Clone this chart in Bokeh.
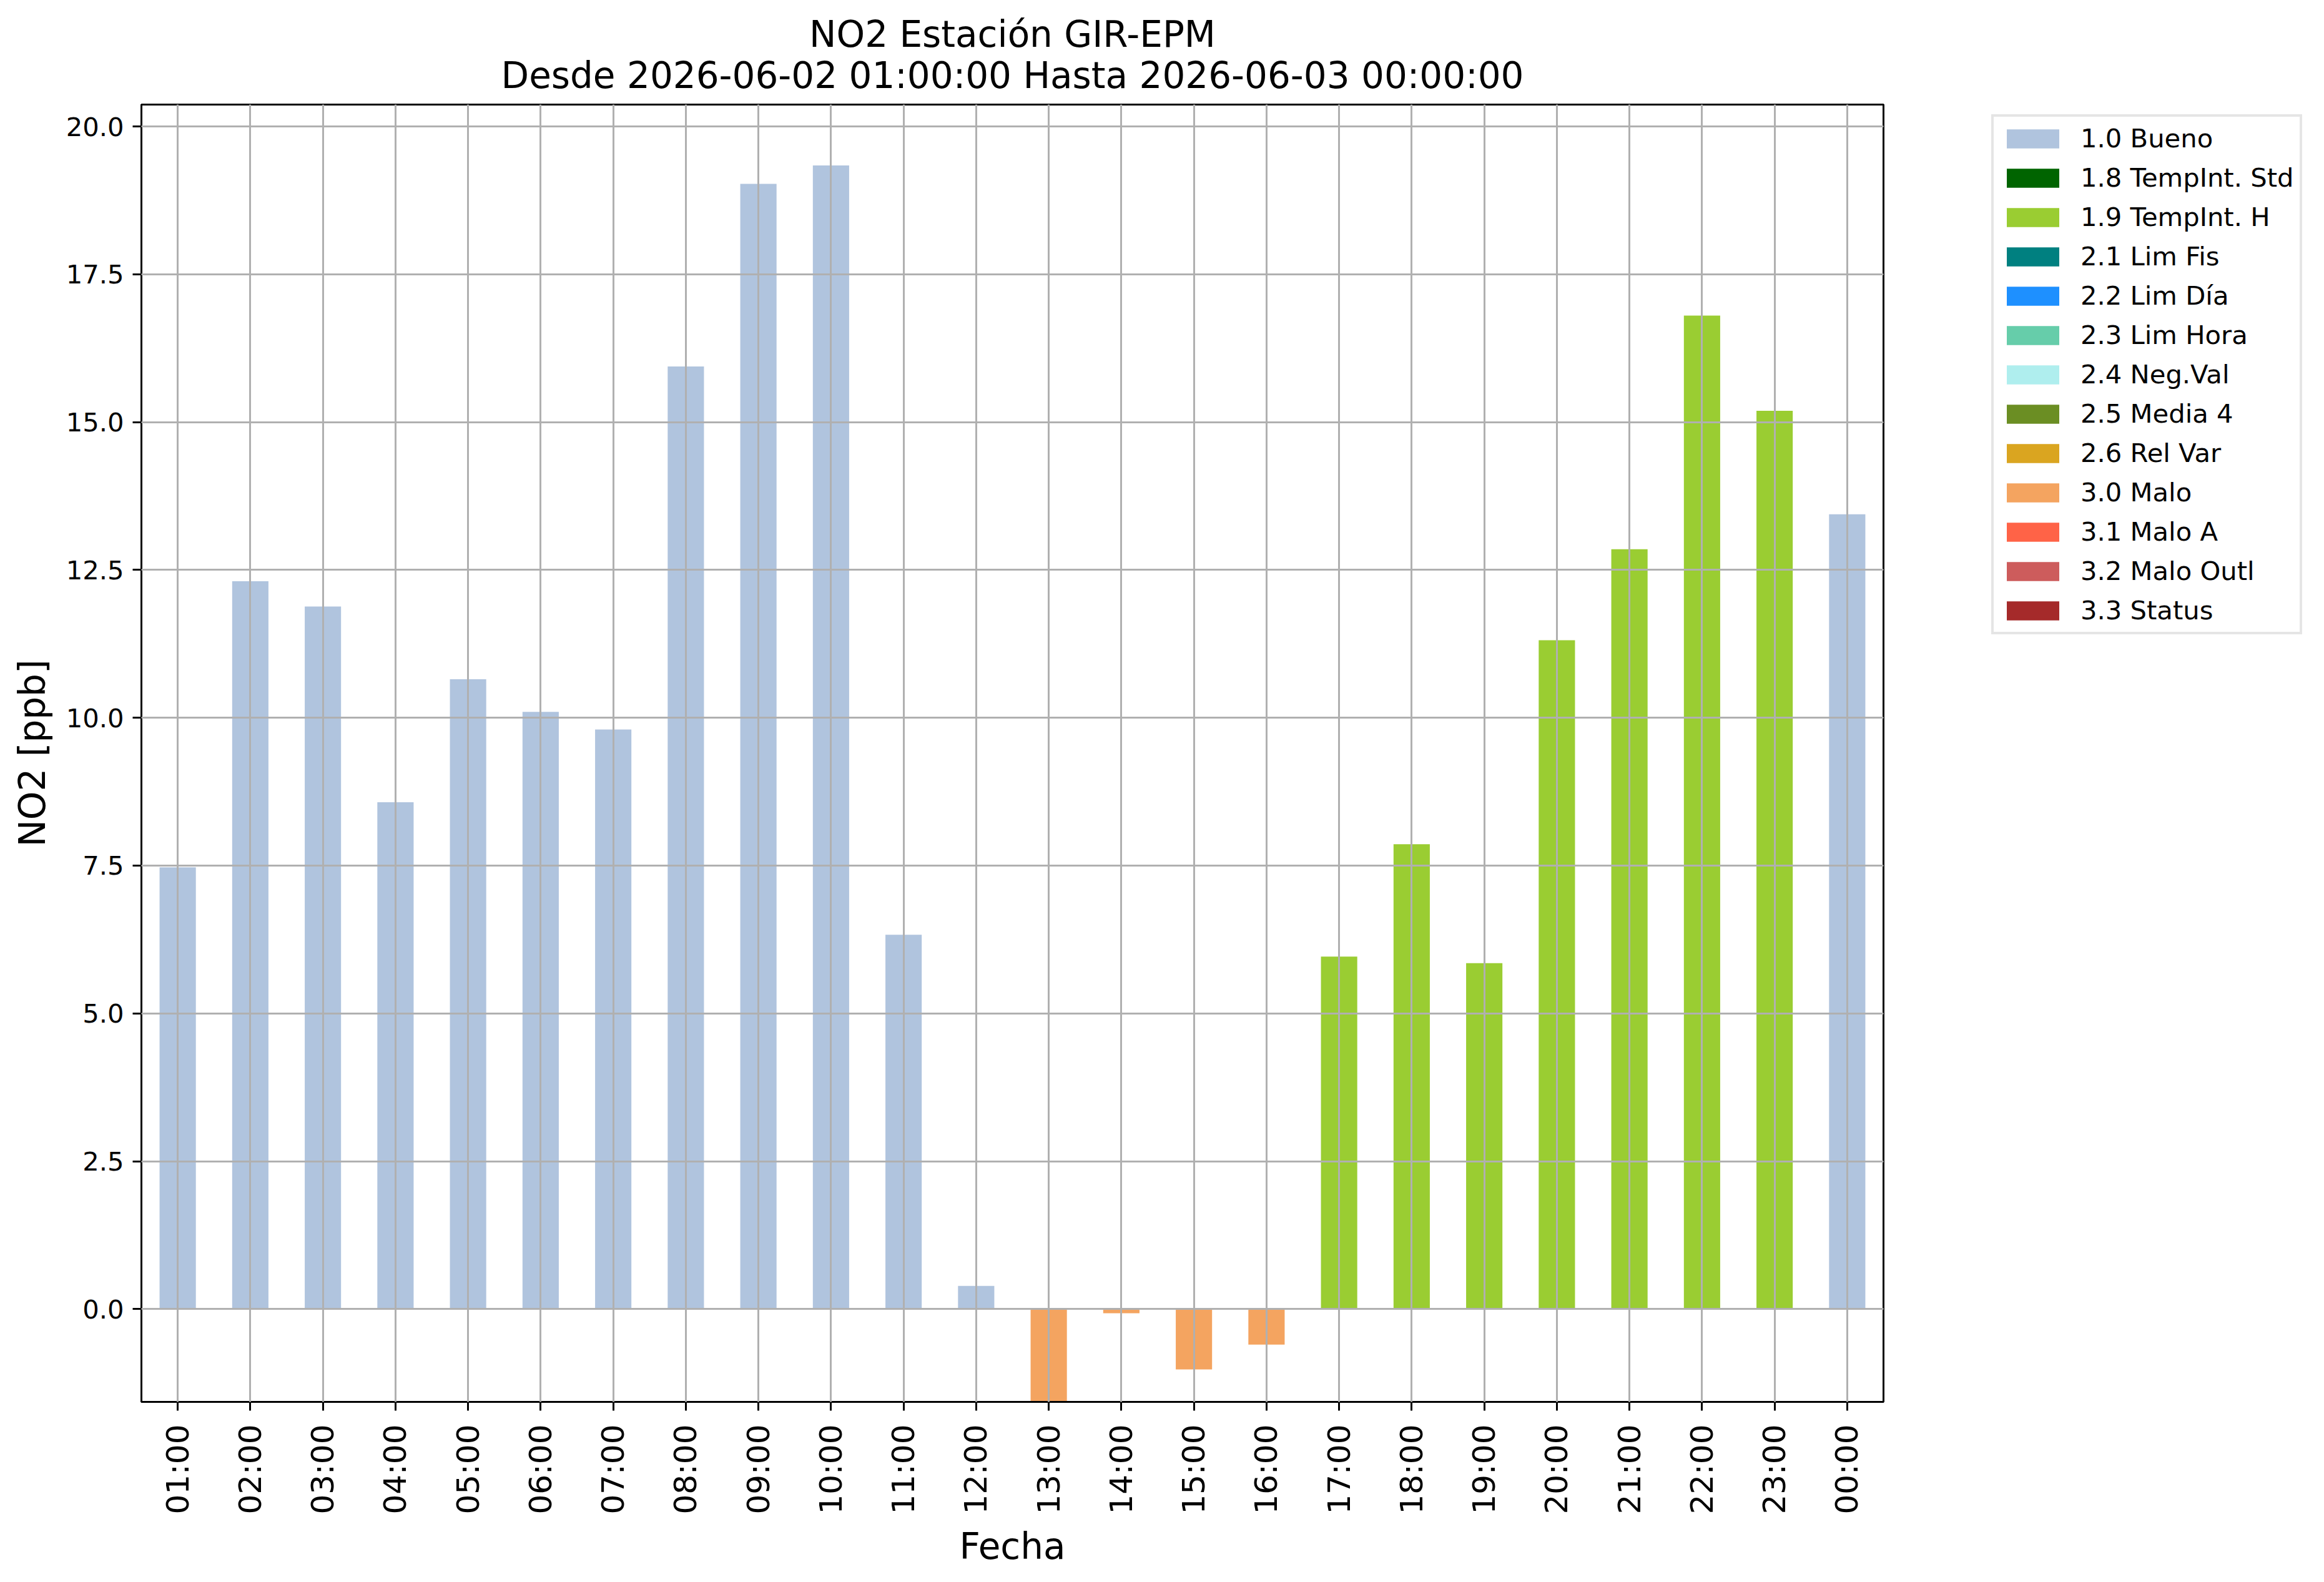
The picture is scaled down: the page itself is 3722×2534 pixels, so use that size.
import math
from bokeh.plotting import figure
from bokeh.models import (ColumnDataSource, Range1d, FactorRange, FixedTicker,
                          PrintfTickFormatter, Legend, LegendItem, Title)
from bokeh.embed import file_html
from bokeh.resources import INLINE

# ---------------- data ----------------
hours = ["01:00", "02:00", "03:00", "04:00", "05:00", "06:00", "07:00", "08:00",
         "09:00", "10:00", "11:00", "12:00", "13:00", "14:00", "15:00", "16:00",
         "17:00", "18:00", "19:00", "20:00", "21:00", "22:00", "23:00", "00:00"]
no2_values = [7.47, 12.31, 11.88, 8.57, 10.65, 10.10, 9.80, 15.94,
              19.03, 19.34, 6.33, 0.39, -1.90, -0.07, -1.02, -0.60,
              5.96, 7.86, 5.85, 11.31, 12.85, 16.80, 15.19, 13.44]
flags = ["1.0", "1.0", "1.0", "1.0", "1.0", "1.0", "1.0", "1.0",
         "1.0", "1.0", "1.0", "1.0", "3.0", "3.0", "3.0", "3.0",
         "1.9", "1.9", "1.9", "1.9", "1.9", "1.9", "1.9", "1.0"]
flag_codes = ["1.0", "1.8", "1.9", "2.1", "2.2", "2.3", "2.4", "2.5", "2.6",
              "3.0", "3.1", "3.2", "3.3"]
flag_names = ["Bueno", "TempInt. Std", "TempInt. H", "Lim Fis", "Lim Día",
              "Lim Hora", "Neg.Val", "Media 4", "Rel Var", "Malo", "Malo A",
              "Malo Outl", "Status"]
flag_colors = ["#B0C4DE", "#006400", "#9ACD32", "#008080", "#1E90FF", "#66CDAA",
               "#AFEEEE", "#6B8E23", "#DAA520", "#F4A460", "#FF6347", "#CD5C5C",
               "#A52A2A"]
y_ticks = [0.0, 2.5, 5.0, 7.5, 10.0, 12.5, 15.0, 17.5, 20.0]
title_1 = "NO2 Estación GIR-EPM"
title_2 = "Desde 2026-06-02 01:00:00 Hasta 2026-06-03 00:00:00"

FONT = "DejaVu Sans"

p = figure(x_range=FactorRange(*hours), y_range=Range1d(-1.57, 20.37),
           frame_width=2790, frame_height=2078,
           min_border_left=226, min_border_right=690,
           min_border_top=167, min_border_bottom=273,
           output_backend="svg", toolbar_location=None, title=None)
p.background_fill_color = "white"
p.border_fill_color = "white"
p.outline_line_color = "black"
p.outline_line_width = 3

items = []
for code, name, col in zip(flag_codes, flag_names, flag_colors):
    xs = [h for h, f in zip(hours, flags) if f == code]
    ys = [v for v, f in zip(no2_values, flags) if f == code]
    if not xs:  # category without data: keep it in the legend only
        xs, ys = [hours[0]], [float("nan")]
    src = ColumnDataSource(dict(x=xs, top=ys))
    r = p.vbar(x="x", top="top", bottom=0, width=0.5, source=src,
               fill_color=col, line_color=None)
    items.append(LegendItem(label=f"{code} {name}", renderers=[r], index=0))

# grid
for g in (p.xgrid, p.ygrid):
    g.grid_line_color = "#b0b0b0"
    g.grid_line_width = 3
    g.level = "overlay"

# axes
for ax in (p.xaxis, p.yaxis):
    ax.axis_line_color = "black"
    ax.axis_line_width = 3
    ax.major_tick_line_color = "black"
    ax.major_tick_line_width = 3
    ax.major_tick_out = 14
    ax.major_tick_in = 0
    ax.minor_tick_line_color = None
    ax.major_label_text_font = FONT
    ax.major_label_text_color = "black"
    ax.axis_label_text_font = FONT
    ax.axis_label_text_font_style = "normal"
    ax.axis_label_text_font_size = "58px"
    ax.axis_label_text_color = "black"

p.yaxis.ticker = FixedTicker(ticks=y_ticks)
p.yaxis.formatter = PrintfTickFormatter(format="%.1f")
p.yaxis.major_label_text_font_size = "41.7px"
p.yaxis.major_label_standoff = 14
p.yaxis.axis_label = "NO2 [ppb]"
p.yaxis.axis_label_standoff = 17

p.xaxis.major_label_orientation = math.pi / 2
p.xaxis.major_label_text_font_size = "50px"
p.xaxis.major_label_standoff = 22
p.xaxis.axis_label = "Fecha"
p.xaxis.axis_label_standoff = 14

# two title lines, each centred over the plot frame
t2 = Title(text=title_2, align="center", text_font=FONT, text_font_size="58px",
           text_font_style="normal", text_color="black", standoff=26)
t1 = Title(text=title_1, align="center", text_font=FONT, text_font_size="58px",
           text_font_style="normal", text_color="black", standoff=-34)
p.add_layout(t2, "above")
p.add_layout(t1, "above")

legend = Legend(items=items, location=(173, 1229),
                label_text_font=FONT, label_text_font_size="41.7px",
                label_text_color="black",
                glyph_width=105, glyph_height=38, label_height=36,
                label_standoff=24, spacing=14, padding=10, margin=0,
                border_line_color="#cccccc", border_line_width=4,
                background_fill_color="white", background_fill_alpha=1.0)
p.add_layout(legend, "right")

open("out.html", "w").write(file_html(p, INLINE))
